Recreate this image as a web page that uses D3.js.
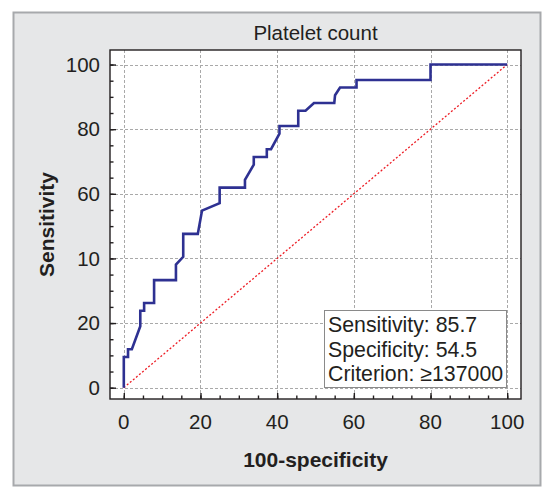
<!DOCTYPE html>
<html>
<head>
<meta charset="utf-8">
<script src="https://cdn.jsdelivr.net/npm/d3@7"></script>
<style>
  html, body { margin: 0; padding: 0; background: #fff; }
  svg { display: block; font-family: "Liberation Sans", Arial, sans-serif; }
</style>
</head>
<body>
<svg id="chart" width="552" height="487"></svg>
<script>
// ROC curve for platelet count: 100-specificity (x) vs sensitivity (y)
const fpr  = [0, 0, 1.1, 1.1, 2.1, 4.3, 4.3, 5.3, 5.3, 7.9, 7.9, 13.6, 13.6, 15.5, 15.5, 19.3, 20.4, 25.0, 25.0, 31.6, 31.6, 33.9, 33.9, 37.3, 37.3, 38.4, 40.6, 40.6, 45.5, 45.5, 47.4, 49.6, 54.9, 55.1, 56.4, 60.7, 60.7, 80.0, 80.0, 100];
const sens = [0, 9.5, 9.5, 11.9, 11.9, 19.0, 23.8, 23.8, 26.2, 26.2, 33.3, 33.3, 38.1, 40.5, 47.6, 47.6, 54.8, 57.1, 61.9, 61.9, 64.3, 69.0, 71.4, 71.4, 73.8, 73.8, 78.6, 81.0, 81.0, 85.7, 85.7, 88.1, 88.1, 90.5, 92.9, 92.9, 95.2, 95.2, 100, 100];

// Reference (chance) line
const chanceX = [0, 100];
const chanceY = [0, 100];

const gridValues = [0, 20, 40, 60, 80, 100];
const xTickLabels = ["0", "20", "40", "60", "80", "100"];
const yTickLabels = ["0", "20", "10", "60", "80", "100"];
const minorValues = d3.range(0, 101, 5);

const titleText = "Platelet count";
const xTitle = "100-specificity";
const yTitle = "Sensitivity";
const statLines = ["Sensitivity: 85.7", "Specificity: 54.5", "Criterion: \u2265137000"];

const svg = d3.select("#chart");
const ink = "#231f20";

// Grey panel behind the whole figure
svg.append("rect")
  .attr("x", 13.5).attr("y", 12.5).attr("width", 527).attr("height", 473)
  .attr("fill", "#e6e7e8").attr("stroke", "#a7a9ac").attr("stroke-width", 2);

const frame = { left: 110, right: 521, top: 50, bottom: 399 };
const x = d3.scaleLinear().domain([-3.6, 103.6]).range([frame.left, frame.right]);
const y = d3.scaleLinear().domain([-3.5, 104.5]).range([frame.bottom, frame.top]);

// Plot area
svg.append("rect")
  .attr("x", frame.left).attr("y", frame.top)
  .attr("width", frame.right - frame.left).attr("height", frame.bottom - frame.top)
  .attr("fill", "#fff");

// Dashed grid
const grid = svg.append("g").attr("stroke", "#a9a9a9").attr("stroke-width", 1).attr("stroke-dasharray", "3,2");
grid.selectAll("line.v").data(gridValues).join("line")
  .attr("x1", d => Math.round(x(d)) + 0.5).attr("x2", d => Math.round(x(d)) + 0.5)
  .attr("y1", frame.top).attr("y2", frame.bottom);
grid.selectAll("line.h").data(gridValues).join("line")
  .attr("y1", d => Math.round(y(d)) + 0.5).attr("y2", d => Math.round(y(d)) + 0.5)
  .attr("x1", frame.left).attr("x2", frame.right);

// Chance diagonal
svg.append("path")
  .datum(d3.zip(chanceX, chanceY))
  .attr("d", d3.line().x(d => x(d[0])).y(d => y(d[1])))
  .attr("fill", "none").attr("stroke", "#ed1c24").attr("stroke-width", 1.3)
  .attr("stroke-dasharray", "2,2");

// ROC curve
svg.append("path")
  .datum(d3.zip(fpr, sens))
  .attr("d", d3.line().x(d => x(d[0])).y(d => y(d[1])))
  .attr("fill", "none").attr("stroke", "#2e3192").attr("stroke-width", 2.6)
  .attr("stroke-linejoin", "miter");

// Statistics box
const box = svg.append("g");
box.append("rect")
  .attr("x", 324.5).attr("y", 310.5).attr("width", 182).attr("height", 77)
  .attr("fill", "#fff").attr("stroke", "#8a8a8a").attr("stroke-width", 1);
box.selectAll("text").data(statLines).join("text")
  .attr("x", 328).attr("y", (d, i) => 332 + i * 24.5)
  .attr("font-size", 21.3).attr("fill", ink)
  .text(d => d);

// Frame
svg.append("rect")
  .attr("x", frame.left).attr("y", frame.top)
  .attr("width", frame.right - frame.left).attr("height", frame.bottom - frame.top)
  .attr("fill", "none").attr("stroke", ink).attr("stroke-width", 1.4);

// Axes: inward ticks, major every 20, minor every 5
const xAxis = d3.axisTop(x).tickValues(gridValues).tickSize(6).tickFormat("");
const xMinor = d3.axisTop(x).tickValues(minorValues).tickSize(3.5).tickFormat("");
const yAxis = d3.axisRight(y).tickValues(gridValues).tickSize(6).tickFormat("");
const yMinor = d3.axisRight(y).tickValues(minorValues).tickSize(3.5).tickFormat("");

function styleAxis(g) {
  g.select(".domain").remove();
  g.selectAll(".tick line").attr("stroke", ink).attr("stroke-width", 1.4);
}
svg.append("g").attr("transform", `translate(0,${frame.bottom})`).call(xAxis).call(styleAxis);
svg.append("g").attr("transform", `translate(0,${frame.bottom})`).call(xMinor).call(styleAxis);
svg.append("g").attr("transform", `translate(${frame.left},0)`).call(yAxis).call(styleAxis);
svg.append("g").attr("transform", `translate(${frame.left},0)`).call(yMinor).call(styleAxis);

// Tick labels
svg.append("g").selectAll("text").data(gridValues).join("text")
  .attr("x", d => x(d)).attr("y", 429)
  .attr("text-anchor", "middle").attr("font-size", 20.5).attr("fill", ink)
  .text((d, i) => xTickLabels[i]);
svg.append("g").selectAll("text").data(gridValues).join("text")
  .attr("x", 100).attr("y", d => y(d)).attr("dy", "0.35em")
  .attr("text-anchor", "end").attr("font-size", 20.5).attr("fill", ink)
  .text((d, i) => yTickLabels[i]);

// Titles
svg.append("text")
  .attr("x", (frame.left + frame.right) / 2).attr("y", 40)
  .attr("text-anchor", "middle").attr("font-size", 20.5).attr("fill", ink)
  .text(titleText);
svg.append("text")
  .attr("x", (frame.left + frame.right) / 2).attr("y", 467)
  .attr("text-anchor", "middle").attr("font-size", 21).attr("font-weight", "bold").attr("fill", ink)
  .text(xTitle);
svg.append("text")
  .attr("transform", `translate(54,${(frame.top + frame.bottom) / 2}) rotate(-90)`)
  .attr("text-anchor", "middle").attr("font-size", 21).attr("font-weight", "bold").attr("fill", ink)
  .text(yTitle);
</script>
</body>
</html>
